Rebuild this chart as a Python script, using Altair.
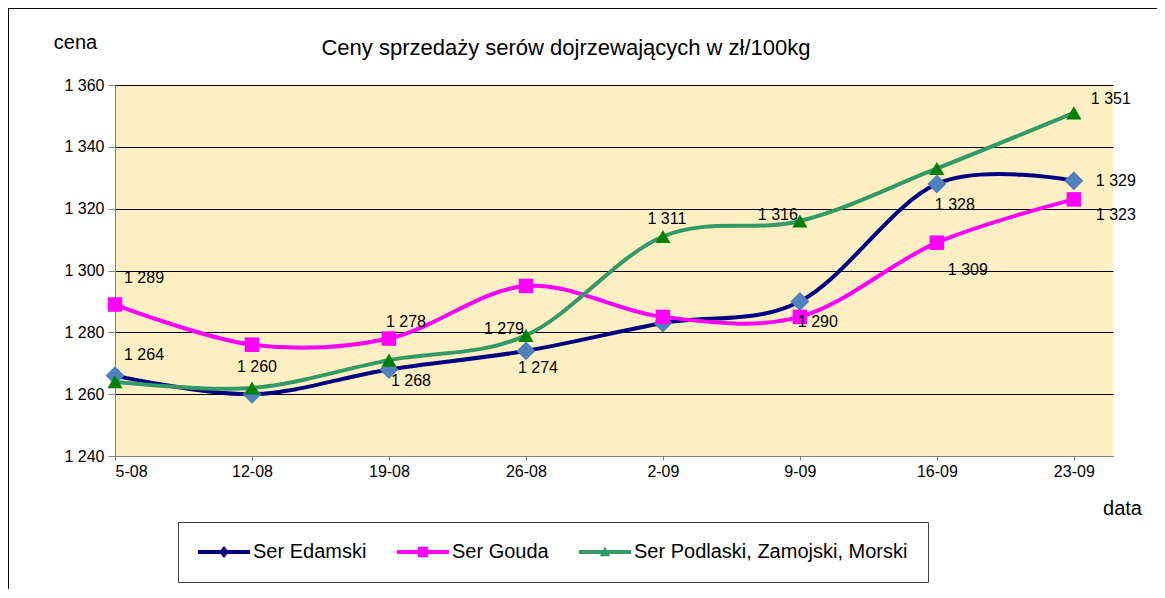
import altair as alt
import pandas as pd

# ---------------- data ----------------
categories = ["5-08", "12-08", "19-08", "26-08", "2-09", "9-09", "16-09", "23-09"]
series_names = ["Ser Edamski", "Ser Gouda", "Ser Podlaski, Zamojski, Morski"]
edamski = [1266, 1260, 1268, 1274, 1283, 1290, 1328, 1329]
gouda = [1289, 1276, 1278, 1295, 1285, 1285, 1309, 1323]
podlaski = [1264, 1262, 1271, 1279, 1311, 1316, 1333, 1351]
y_ticks = [1240, 1260, 1280, 1300, 1320, 1340, 1360]

# ---------------- styles ----------------
FONT = "Liberation Sans"
line_colors = ["#000080", "#FF00FF", "#339966"]
marker_colors = ["#4F81BD", "#FF00FF", "#008000"]
marker_shapes = ["diamond", "square", "triangle-up"]
marker_sizes = [360, 210, 230]
# legend symbols: a line with the series marker (unit = 10 px)
legend_paths = [
    "M-1,-0.2H4.2V0.2H-1Z M1.6,-0.6L2.08,0L1.6,0.6L1.12,0Z",
    "M-1,-0.2H4.2V0.2H-1Z M1.08,-0.52H2.12V0.52H1.08Z",
    "M-1,-0.2H4.2V0.2H-1Z M1.6,-0.55L2.12,0.42H1.08Z",
]

# which point labels are shown and where (series index, category index)
label_groups = {
    (29, -27): [(1, 0), (2, 0)],
    (5, -27): [(0, 1)],
    (17, -17): [(1, 2)],
    (4, -17): [(2, 4)],
    (-22, -6): [(2, 3), (2, 5)],
    (22, 12): [(0, 2)],
    (12, 17): [(0, 3)],
    (18, 21): [(0, 5), (0, 6)],
    (31, 27): [(1, 6)],
    (37, -14): [(2, 7)],
    (42, 0): [(0, 7)],
    (42, 16): [(1, 7)],
}

rows = []
for si, (name, vals) in enumerate(zip(series_names, [edamski, gouda, podlaski])):
    for ci, v in enumerate(vals):
        rows.append({"series": name, "si": si, "idx": ci, "cat": categories[ci],
                     "value": v, "label": f"{v:,}".replace(",", " ")})
df = pd.DataFrame(rows)

cat_js = "[" + ",".join(f"'{c}'" for c in categories) + "]"

x_enc = alt.X(
    "idx:Q",
    scale=alt.Scale(domain=[0, 7.286], nice=False, zero=False),
    axis=alt.Axis(
        values=list(range(len(categories))),
        labelExpr=f"{cat_js}[datum.value]",
        grid=False, tickSize=4, labelPadding=3,
        title="data", titleX=1007, titleY=52, titleAlign="center",
        titleBaseline="middle", titleAngle=0,
    ),
)
y_enc = alt.Y(
    "value:Q",
    scale=alt.Scale(domain=[1240, 1360], nice=False, zero=False),
    axis=alt.Axis(
        values=y_ticks, grid=True, tickSize=7, labelPadding=4,
        labelExpr="replace(format(datum.value, ','), ',', ' ')",
        title="cena", titleAngle=0, titleX=-40, titleY=-43,
        titleAlign="center", titleBaseline="middle",
    ),
)

base = alt.Chart(df)

line_layers = []
point_layers = []
for si, name in enumerate(series_names):
    sub = df[df["series"] == name]
    line_layers.append(
        alt.Chart(sub).mark_line(
            interpolate="cardinal", strokeWidth=4, color=line_colors[si]
        ).encode(x=x_enc, y=y_enc, order="idx:Q")
    )
    point_layers.append(
        alt.Chart(sub).mark_point(
            shape=marker_shapes[si], filled=True, size=marker_sizes[si],
            color=marker_colors[si], opacity=1,
        ).encode(x=x_enc, y=y_enc)
    )

legend = alt.Legend(
    title=None, orient="none", legendX=63, legendY=437, direction="horizontal",
    strokeColor="#404040", fillColor="white", padding=20,
    symbolSize=400, symbolStrokeWidth=0, symbolOpacity=1,
    labelFont=FONT, labelFontSize=20, labelColor="#000", labelOffset=35,
    labelLimit=400, columnPadding=30,
)
legend_layer = base.mark_point(filled=True, opacity=0).encode(
    x=x_enc, y=y_enc,
    color=alt.Color("series:N", scale=alt.Scale(domain=series_names, range=line_colors), legend=legend),
    shape=alt.Shape("series:N", scale=alt.Scale(domain=series_names, range=legend_paths), legend=legend),
)

text_layers = []
for (dx, dy), keys in label_groups.items():
    sub = df[[(r.si, r.idx) in keys for r in df.itertuples()]]
    text_layers.append(
        alt.Chart(sub).mark_text(
            dx=dx, dy=dy, fontSize=16, font=FONT, color="#000",
            align="center", baseline="middle",
        ).encode(x=x_enc, y=y_enc, text="label:N")
    )

border_top = base.mark_rule(color="#000", strokeWidth=1).encode(
    x=alt.value(-106.5), x2=alt.value(1045), y=alt.value(-76.5)
)
border_left = base.mark_rule(color="#000", strokeWidth=1).encode(
    x=alt.value(-106.5), y=alt.value(-76.5), y2=alt.value(520)
)

chart = alt.layer(
    *line_layers, *point_layers, legend_layer, *text_layers, border_top, border_left
).properties(
    width=998, height=371,
    autosize=alt.AutoSizeParams(type="none"),
    padding={"left": 107, "top": 77, "right": 44, "bottom": 133},
    background="white",
    title=alt.TitleParams(
        "Ceny sprzedaży serów dojrzewających w zł/100kg",
        font=FONT, fontSize=22, fontWeight="normal", color="#000",
        anchor="middle", dx=-48, dy=72, offset=20,
    ),
).configure_view(
    fill="#FEF0C3", strokeWidth=0,
).configure_axis(
    labelFont=FONT, labelFontSize=16, labelColor="#000",
    titleFont=FONT, titleFontSize=20, titleFontWeight="normal", titleColor="#000",
    domainColor="#808080", tickColor="#808080", gridColor="#000", gridWidth=1,
)

chart.save("out.html", embed_options={"renderer": "svg", "actions": False})
